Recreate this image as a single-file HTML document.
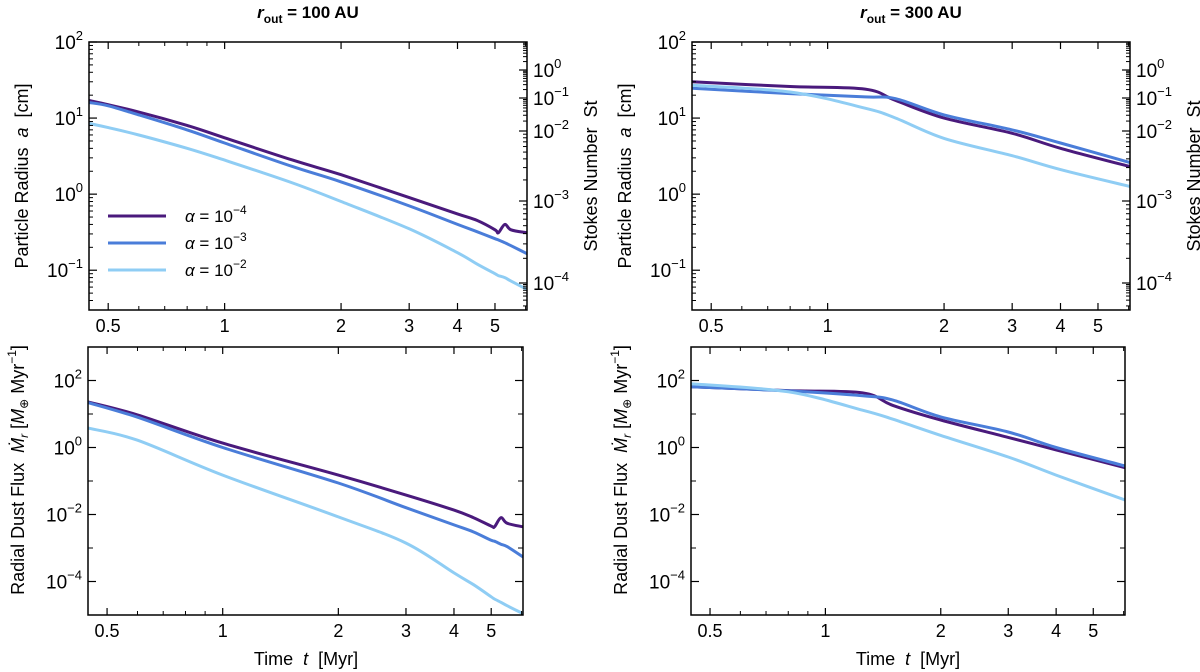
<!DOCTYPE html>
<html><head><meta charset="utf-8"><style>
body{margin:0;background:#fff;}
svg{display:block;font-family:"Liberation Sans",sans-serif;}
</style></head><body>
<svg id="fig" width="1200" height="672" viewBox="0 0 1200 672"></svg>
<script>
// top-left: particle radius, r_out=100 AU
const tlTimes = [0.446,0.5,0.6,0.8,1,1.5,2,3,4,4.5,5,5.1,5.3,5.5,6.05];
const tlA4 = [17,15,12,8,5.5,2.8,1.8,0.9,0.55,0.45,0.34,0.31,0.4,0.34,0.31];
const tlA3 = [16,14.5,11,7,4.7,2.3,1.45,0.7,0.4,0.32,0.26,0.25,0.23,0.21,0.165];
const tlA2 = [8.5,7.5,6,4,2.8,1.4,0.8,0.35,0.17,0.12,0.09,0.085,0.08,0.072,0.056];
// bottom-left: dust flux, r_out=100 AU
const blTimes = [0.446,0.6,1,2,3,4,4.5,5,5.1,5.3,5.5,6.05];
const blA4 = [23,9.4,1.35,0.15,0.038,0.0135,0.008,0.0045,0.0043,0.008,0.0055,0.0043];
const blA3 = [22,8,1.0,0.087,0.016,0.0049,0.003,0.0017,0.0016,0.0013,0.0011,0.00054];
const blA2 = [3.8,1.65,0.15,0.0085,0.0014,0.00018,0.00008,0.000035,0.00003,0.000024,0.000019,0.000011];
// top-right: particle radius, r_out=300 AU
const trTimes = [0.446,0.8,1.25,1.5,2,3,4,6.05];
const trA4 = [30,26,24,17,10,6.3,4,2.3];
const trA3 = [24.6,21,19,18,11,7,4.7,2.6];
const trA2 = [27,22,13.5,10,5.4,3.2,2.1,1.26];
// bottom-right: dust flux, r_out=300 AU
const brTimes = [0.446,0.8,1.25,1.5,2,3,4,6.05];
const brA4 = [65,50,43,18,6.6,2,0.85,0.25];
const brA3 = [65,49,35,26,8.2,2.9,1.0,0.28];
const brA2 = [80,46,13,7,2.3,0.52,0.15,0.027];
const xTicks = [0.5,1,2,3,4,5];
const xMinor = [0.6,0.7,0.8,0.9,6];
const colors = ['#4a1a7c','#4a7dd9','#8fcdf4'];
const legendLabels = ['−4','−3','−2'];

const NS='http://www.w3.org/2000/svg';
const svg=document.getElementById('fig');
function el(tag,attrs,parent){const e=document.createElementNS(NS,tag);for(const k in attrs)e.setAttribute(k,attrs[k]);(parent||svg).appendChild(e);return e;}
const X0=0.446,X1=6.05;

function smoothPath(pts){
  let d='M'+pts[0][0].toFixed(1)+' '+pts[0][1].toFixed(1);
  for(let i=0;i<pts.length-1;i++){
    const p0=pts[Math.max(0,i-1)],p1=pts[i],p2=pts[i+1],p3=pts[Math.min(pts.length-1,i+2)];
    const c1x=p1[0]+(p2[0]-p0[0])/6,c1y=p1[1]+(p2[1]-p0[1])/6;
    const c2x=p2[0]-(p3[0]-p1[0])/6,c2y=p2[1]-(p3[1]-p1[1])/6;
    d+=' C'+c1x.toFixed(1)+' '+c1y.toFixed(1)+' '+c2x.toFixed(1)+' '+c2y.toFixed(1)+' '+p2[0].toFixed(1)+' '+p2[1].toFixed(1);
  }
  return d;
}

function panel(p){
  const g=el('g',{});
  
  
  const xs=t=>p.x0+(Math.log10(t)-Math.log10(X0))/(Math.log10(X1)-Math.log10(X0))*(p.x1-p.x0);
  const ys=v=>p.y0+(Math.log10(p.yhi)-Math.log10(v))/(Math.log10(p.yhi)-Math.log10(p.ylo))*(p.y1-p.y0);
  const cid='c'+p.name;
  const cp=el('clipPath',{id:cid},g);el('rect',{x:p.x0,y:p.y0,width:p.x1-p.x0,height:p.y1-p.y0},cp);
  p.series.forEach((s,i)=>{
    const pts=s.map((v,j)=>[xs(p.t[j]),ys(v)]);
    const path=el('path',{d:smoothPath(pts),fill:'none',stroke:colors[i],'stroke-width':3,'stroke-linejoin':'round','clip-path':'url(#'+cid+')'},g);
    
    
  });
  const fr=el('rect',{x:p.x0,y:p.y0,width:p.x1-p.x0,height:p.y1-p.y0,fill:'none',stroke:'#000','stroke-width':1.5},g);
  
  
  xTicks.forEach(t=>{const x=xs(t);
    el('line',{x1:x,x2:x,y1:p.y1,y2:p.y1-7,stroke:'#000','stroke-width':1.2},g);
    el('line',{x1:x,x2:x,y1:p.y0,y2:p.y0+7,stroke:'#000','stroke-width':1.2},g);
    const tx=el('text',{x:x,y:p.y1+22,'font-size':18,'text-anchor':'middle'},g);tx.textContent=String(t);
    
    
  });
  xMinor.forEach(t=>{if(t>X1)return;const x=xs(t);
    el('line',{x1:x,x2:x,y1:p.y1,y2:p.y1-4,stroke:'#000','stroke-width':1},g);
    el('line',{x1:x,x2:x,y1:p.y0,y2:p.y0+4,stroke:'#000','stroke-width':1},g);});
  p.yTicks.forEach(e=>{const y=ys(Math.pow(10,e));
    el('line',{x1:p.x0,x2:p.x0+8,y1:y,y2:y,stroke:'#000','stroke-width':1.2},g);
    if(!p.stokes) el('line',{x1:p.x1,x2:p.x1-8,y1:y,y2:y,stroke:'#000','stroke-width':1.2},g);
    const tx=el('text',{x:p.x0-6,y:y+7,'font-size':19,'text-anchor':'end'},g);
    
    
    const a=el('tspan',{},tx);a.textContent='10';
    const b=el('tspan',{dy:-9,'font-size':13},tx);b.textContent=e<0?'−'+(-e):String(e);
  });
  if(p.minor){
    for(let e=Math.floor(Math.log10(p.ylo));e<Math.log10(p.yhi);e++)for(let m=2;m<10;m++){const v=m*Math.pow(10,e);if(v<p.ylo||v>p.yhi)continue;const y=ys(v);
      el('line',{x1:p.x0,x2:p.x0+4,y1:y,y2:y,stroke:'#000','stroke-width':1},g);}
  } else {
    p.yTicks.forEach(e=>{const y=ys(Math.pow(10,e+1));if(y>p.y0&&y<p.y1){
      el('line',{x1:p.x0,x2:p.x0+5,y1:y,y2:y,stroke:'#000','stroke-width':1},g);
      el('line',{x1:p.x1,x2:p.x1-5,y1:y,y2:y,stroke:'#000','stroke-width':1},g);}});
  }
  if(p.stokes){
    const st=[[0,70],[-1,98],[-2,131],[-3,201],[-4,283]];
    st.forEach(([e,y])=>{
      el('line',{x1:p.x1,x2:p.x1-8,y1:y,y2:y,stroke:'#000','stroke-width':1.2},g);
      const tx=el('text',{x:p.x1+6,y:y+7,'font-size':19},g);
      
      
      const a=el('tspan',{},tx);a.textContent='10';
      const b=el('tspan',{dy:-9,'font-size':13},tx);b.textContent=e<0?'−'+(-e):String(e);
    });
    for(let i=0;i<st.length-1;i++){const y0=st[i][1],y1=st[i+1][1];
      for(let m=2;m<10;m++){const y=y1-(y1-y0)*Math.log10(m);el('line',{x1:p.x1,x2:p.x1-4,y1:y,y2:y,stroke:'#000','stroke-width':1},g);}}
    for(let m=2;m<10;m++){const y=283+(283-201)*(1-Math.log10(m))*0.4;if(y<p.y1)el('line',{x1:p.x1,x2:p.x1-4,y1:y,y2:y,stroke:'#000','stroke-width':1},g);}
    for(let m=2;m<10;m++){const y=70-(98-70)*Math.log10(m);if(y>p.y0)el('line',{x1:p.x1,x2:p.x1-4,y1:y,y2:y,stroke:'#000','stroke-width':1},g);}
    const sl=el('text',{transform:'translate('+(p.x1+70)+','+((p.y0+p.y1)/2)+') rotate(-90)','font-size':18,'text-anchor':'middle'},g);
    
    
    sl.textContent='Stokes Number\u00a0 St';
  }
  return g;
}

const topCfg={y0:42,y1:310,ylo:0.03,yhi:100,yTicks:[2,1,0,-1],minor:true,stokes:true};
const botCfg={y0:347,y1:615,ylo:1e-5,yhi:1e3,yTicks:[2,0,-2,-4],minor:false,stokes:false};
panel(Object.assign({name:'panel-radius-100au',x0:89,x1:527,t:tlTimes,series:[tlA4,tlA3,tlA2]},topCfg));
panel(Object.assign({name:'panel-radius-300au',x0:692,x1:1130,t:trTimes,series:[trA4,trA3,trA2]},topCfg));
panel(Object.assign({name:'panel-flux-100au',x0:88,x1:523,t:blTimes,series:[blA4,blA3,blA2]},botCfg));
panel(Object.assign({name:'panel-flux-300au',x0:691,x1:1125,t:brTimes,series:[brA4,brA3,brA2]},botCfg));

const lg=el('g',{});


[216,243,270].forEach((y,i)=>{
  el('line',{x1:108,x2:166,y1:y,y2:y,stroke:colors[i],'stroke-width':3},lg);
  const t=el('text',{x:185,y:y+6,'font-size':17},lg);
  
  
  const a=el('tspan',{'font-style':'italic'},t);a.textContent='α';
  const b=el('tspan',{},t);b.textContent=' = 10';
  const c=el('tspan',{dy:-8,'font-size':12},t);c.textContent=legendLabels[i];
});

function txt(parts,attrs,name){
  const t=el('text',attrs);
  
  
  parts.forEach(pp=>{const s=el('tspan',pp[1]||{},t);s.textContent=pp[0];});
  return t;
}
const titleParts=v=>[['r',{'font-style':'italic'}],['out',{'font-size':12,dy:5}],[' = '+v+' AU',{dy:-5}]];
txt(titleParts(100),{x:308,y:18,'font-size':17,'font-weight':'bold','text-anchor':'middle'},'title-100au');
txt(titleParts(300),{x:911,y:18,'font-size':17,'font-weight':'bold','text-anchor':'middle'},'title-300au');
const radParts=[['Particle Radius\u00a0 '],['a',{'font-style':'italic'}],['\u00a0 [cm]']];
txt(radParts,{transform:'translate(28,176) rotate(-90)','font-size':18,'text-anchor':'middle'},'y-axis-title-radius');
txt(radParts,{transform:'translate(631,176) rotate(-90)','font-size':18,'text-anchor':'middle'},'y-axis-title-radius-right');
const fluxParts=[['Radial Dust Flux\u00a0 '],['Ṁ',{'font-style':'italic'}],['r',{'font-style':'italic','font-size':12,dy:4}],[' [',{dy:-4}],['M',{'font-style':'italic'}],['⊕',{'font-size':12,dy:4}],[' Myr',{dy:-4}],['−1',{'font-size':12,dy:-8}],[']',{dy:8}]];
txt(fluxParts,{transform:'translate(24,470) rotate(-90)','font-size':18,'text-anchor':'middle'},'y-axis-title-flux');
txt(fluxParts,{transform:'translate(627,470) rotate(-90)','font-size':18,'text-anchor':'middle'},'y-axis-title-flux-right');
const timeParts=[['Time\u00a0 '],['t',{'font-style':'italic'}],['\u00a0 [Myr]']];
txt(timeParts,{x:306,y:665,'font-size':18,'text-anchor':'middle'},'x-axis-title-left');
txt(timeParts,{x:908,y:665,'font-size':18,'text-anchor':'middle'},'x-axis-title-right');
</script>
</body></html>
